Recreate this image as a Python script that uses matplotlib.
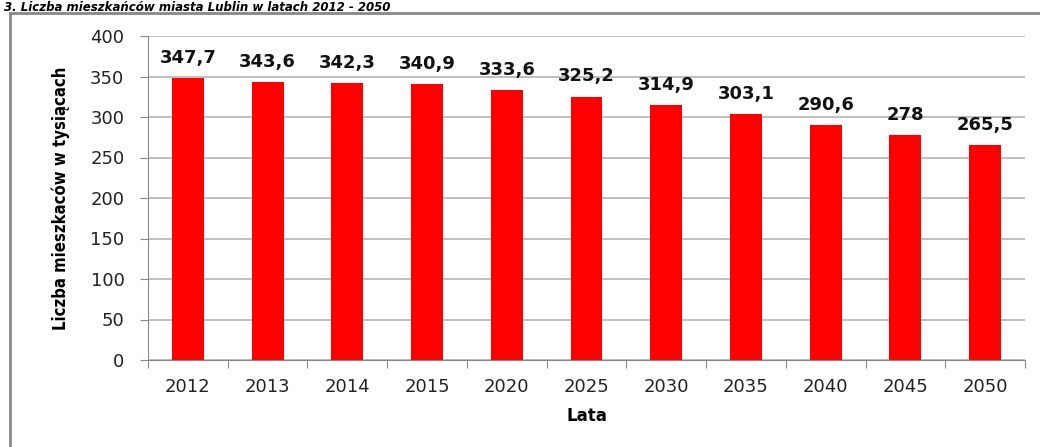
import matplotlib.pyplot as plt
from matplotlib.lines import Line2D

years = ["2012", "2013", "2014", "2015", "2020", "2025", "2030", "2035", "2040", "2045", "2050"]
population = [347.7, 343.6, 342.3, 340.9, 333.6, 325.2, 314.9, 303.1, 290.6, 278, 265.5]
labels = ["347,7", "343,6", "342,3", "340,9", "333,6", "325,2", "314,9", "303,1", "290,6", "278", "265,5"]
yticks = [0, 50, 100, 150, 200, 250, 300, 350, 400]

fig = plt.figure(figsize=(10.4, 4.47), dpi=100)
ax = fig.add_axes([148 / 1040, 1 - 360 / 447, (1025 - 148) / 1040, (360 - 36) / 447])

x = range(len(years))
ax.bar(x, population, width=0.4, color="#ff0000", zorder=3)
for i, (v, lab) in enumerate(zip(population, labels)):
    ax.annotate(lab, (i, v), xytext=(0, 8), textcoords="offset points",
                ha="center", va="bottom", fontsize=13, fontweight="bold", color="#111111")

ax.set_xlim(-0.5, len(years) - 0.5)
ax.set_ylim(0, 400)
ax.set_yticks(yticks)
ax.set_xticks([i - 0.5 for i in range(len(years) + 1)], minor=False)
ax.set_xticklabels([])
ax.set_xticks(list(x), minor=True)
ax.set_xticklabels(years, minor=True, fontsize=13, color="#222222")
ax.tick_params(axis="x", which="major", length=6, color="#888888", direction="out")
ax.tick_params(axis="x", which="minor", length=0, pad=13)
ax.tick_params(axis="y", length=6, color="#888888", pad=11, labelsize=13, labelcolor="#222222")
ax.grid(axis="y", color="#b4b4b4", linewidth=1.2, zorder=0)

for side in ["top", "right"]:
    ax.spines[side].set_visible(False)
ax.spines["left"].set_color("#888888")
ax.spines["bottom"].set_color("#888888")

ax.set_ylabel("Liczba mieszkaców w tysiącach", fontsize=12, fontweight="bold",
              fontstretch="condensed")
ax.yaxis.set_label_coords(-78 / 877, 0.5)
ax.set_xlabel("Lata", fontsize=12, fontweight="bold", labelpad=8)

# outer frame of the original chart box
fig.add_artist(Line2D([10 / 1040, 10 / 1040], [0, 1 - 13 / 447], color="#888888", lw=2))
fig.add_artist(Line2D([10 / 1040, 1], [1 - 13 / 447, 1 - 13 / 447], color="#888888", lw=2))

# chart title above the frame
fig.text(4 / 1040, 1 - 1 / 447, "3. Liczba mieszkańców miasta Lublin w latach 2012 - 2050",
         fontsize=8.5, fontweight="bold", style="italic", va="top", ha="left")

fig.savefig("out.png", dpi=100)
